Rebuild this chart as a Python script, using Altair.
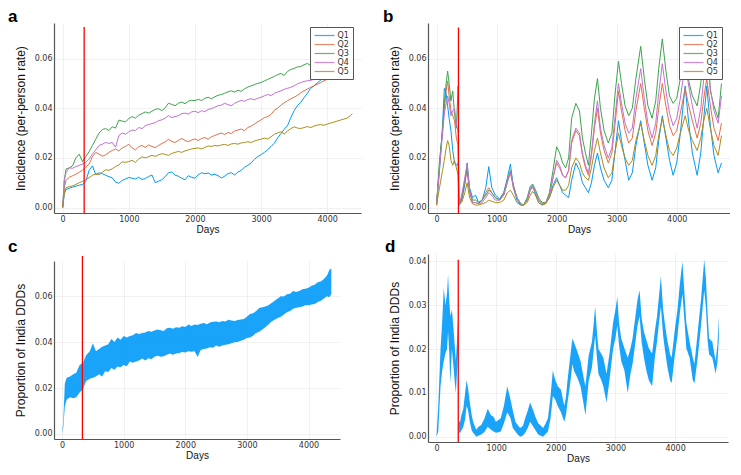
import altair as alt
import pandas as pd

SERIES = ["Q1", "Q2", "Q3", "Q4", "Q5"]
COLORS = ["#009af9", "#e26f46", "#3da44d", "#c271d2", "#ac8e18"]
BAND_COLOR = "#009af9"
TF = "Liberation Sans"
LF = "DejaVu Sans"

# ---------------- panel a ----------------
days_a = [0, 25] + list(range(50, 4351, 50)) + [4380]
q1_a = [0.0, 0.0055, 0.0072, 0.0078, 0.0082, 0.0086, 0.0090, 0.0093, 0.0105, 0.0150,
        0.0168, 0.0133, 0.0140, 0.0136, 0.0130, 0.0124, 0.0120, 0.0102, 0.0098, 0.0109,
        0.0115, 0.0121, 0.0118, 0.0115, 0.0122, 0.0113, 0.0117, 0.0125, 0.0131, 0.0100,
        0.0106, 0.0112, 0.0124, 0.0140, 0.0143, 0.0130, 0.0126, 0.0118, 0.0112, 0.0128,
        0.0122, 0.0118, 0.0132, 0.0140, 0.0136, 0.0139, 0.0131, 0.0134, 0.0128, 0.0119,
        0.0126, 0.0137, 0.0140, 0.0131, 0.0143, 0.0150, 0.0162, 0.0170, 0.0180, 0.0194,
        0.0205, 0.0213, 0.0222, 0.0233, 0.0245, 0.0259, 0.0280, 0.0298, 0.0315, 0.0330,
        0.0362, 0.0390, 0.0410, 0.0424, 0.0442, 0.0460, 0.0480, 0.0490, 0.0502, 0.0512,
        0.0527, 0.0540, 0.0560, 0.0578, 0.0600, 0.0625, 0.0652, 0.0675, 0.0705, 0.0721]
q2_a = [0.0, 0.0080, 0.0110, 0.0122, 0.0128, 0.0134, 0.0142, 0.0150, 0.0162, 0.0175,
        0.0205, 0.0222, 0.0215, 0.0207, 0.0212, 0.0222, 0.0230, 0.0236, 0.0228, 0.0240,
        0.0246, 0.0255, 0.0240, 0.0232, 0.0245, 0.0250, 0.0242, 0.0252, 0.0246, 0.0241,
        0.0250, 0.0258, 0.0264, 0.0275, 0.0266, 0.0262, 0.0270, 0.0278, 0.0270, 0.0265,
        0.0272, 0.0276, 0.0270, 0.0278, 0.0282, 0.0275, 0.0285, 0.0290, 0.0296, 0.0300,
        0.0294, 0.0302, 0.0298, 0.0308, 0.0312, 0.0316, 0.0310, 0.0322, 0.0328, 0.0336,
        0.0345, 0.0353, 0.0362, 0.0366, 0.0375, 0.0392, 0.0400, 0.0412, 0.0422, 0.0430,
        0.0438, 0.0444, 0.0452, 0.0462, 0.0470, 0.0477, 0.0484, 0.0490, 0.0496, 0.0503,
        0.0510, 0.0516, 0.0522, 0.0530, 0.0545, 0.0560, 0.0575, 0.0590, 0.0598, 0.0604]
q3_a = [0.0, 0.0110, 0.0155, 0.0160, 0.0168, 0.0200, 0.0215, 0.0185, 0.0205, 0.0225,
        0.0250, 0.0275, 0.0300, 0.0314, 0.0318, 0.0310, 0.0325, 0.0320, 0.0352, 0.0348,
        0.0345, 0.0358, 0.0366, 0.0360, 0.0372, 0.0378, 0.0385, 0.0380, 0.0388, 0.0395,
        0.0398, 0.0390, 0.0402, 0.0420, 0.0415, 0.0410, 0.0420, 0.0425, 0.0418, 0.0428,
        0.0432, 0.0430, 0.0436, 0.0431, 0.0440, 0.0444, 0.0438, 0.0446, 0.0452, 0.0455,
        0.0460, 0.0466, 0.0470, 0.0465, 0.0472, 0.0468, 0.0478, 0.0485, 0.0490, 0.0495,
        0.0500, 0.0503, 0.0510, 0.0516, 0.0522, 0.0528, 0.0535, 0.0540, 0.0532, 0.0548,
        0.0556, 0.0560, 0.0566, 0.0568, 0.0575, 0.0580, 0.0572, 0.0578, 0.0585, 0.0590,
        0.0596, 0.0602, 0.0610, 0.0618, 0.0625, 0.0635, 0.0645, 0.0655, 0.0668, 0.0680]
q4_a = [0.0, 0.0110, 0.0140, 0.0160, 0.0158, 0.0165, 0.0170, 0.0175, 0.0182, 0.0195,
        0.0215, 0.0232, 0.0250, 0.0255, 0.0262, 0.0258, 0.0262, 0.0243, 0.0290, 0.0300,
        0.0295, 0.0305, 0.0312, 0.0310, 0.0322, 0.0318, 0.0330, 0.0334, 0.0338, 0.0342,
        0.0350, 0.0353, 0.0360, 0.0370, 0.0362, 0.0366, 0.0370, 0.0378, 0.0380, 0.0376,
        0.0385, 0.0388, 0.0382, 0.0390, 0.0386, 0.0395, 0.0398, 0.0404, 0.0410, 0.0412,
        0.0420, 0.0414, 0.0410, 0.0420, 0.0426, 0.0431, 0.0428, 0.0435, 0.0438, 0.0434,
        0.0440, 0.0444, 0.0450, 0.0455, 0.0451, 0.0460, 0.0465, 0.0470, 0.0476, 0.0480,
        0.0484, 0.0490, 0.0498, 0.0503, 0.0508, 0.0510, 0.0512, 0.0516, 0.0522, 0.0528,
        0.0526, 0.0532, 0.0538, 0.0544, 0.0550, 0.0556, 0.0560, 0.0566, 0.0572, 0.0578]
q5_a = [0.0, 0.0060, 0.0080, 0.0084, 0.0087, 0.0093, 0.0100, 0.0105, 0.0112, 0.0120,
        0.0130, 0.0135, 0.0132, 0.0142, 0.0152, 0.0150, 0.0156, 0.0165, 0.0172, 0.0184,
        0.0182, 0.0185, 0.0190, 0.0182, 0.0195, 0.0204, 0.0200, 0.0205, 0.0210, 0.0206,
        0.0212, 0.0217, 0.0214, 0.0210, 0.0218, 0.0222, 0.0226, 0.0222, 0.0228, 0.0232,
        0.0236, 0.0238, 0.0240, 0.0236, 0.0242, 0.0248, 0.0246, 0.0250, 0.0248, 0.0252,
        0.0254, 0.0250, 0.0256, 0.0258, 0.0255, 0.0260, 0.0262, 0.0265, 0.0262, 0.0268,
        0.0272, 0.0275, 0.0280, 0.0276, 0.0285, 0.0295, 0.0300, 0.0305, 0.0296, 0.0308,
        0.0318, 0.0325, 0.0320, 0.0318, 0.0322, 0.0326, 0.0322, 0.0328, 0.0332, 0.0334,
        0.0331, 0.0336, 0.0340, 0.0344, 0.0348, 0.0352, 0.0356, 0.0360, 0.0370, 0.0378]

# ---------------- panel b ----------------
days_b = [0, 50, 100, 130, 160, 185, 210, 240, 270, 300,
          330, 360, 372, 420, 470, 510, 550, 600, 650, 700,
          760, 820, 870, 920, 980, 1050, 1120, 1180, 1230, 1280,
          1340, 1400, 1450, 1510, 1560, 1600, 1650, 1700, 1760, 1820,
          1880, 1940, 2000, 2050, 2100, 2150, 2200, 2250, 2320, 2380,
          2430, 2480, 2530, 2580, 2630, 2680, 2730, 2790, 2860, 2920,
          2970, 3030, 3080, 3140, 3200, 3260, 3320, 3400, 3460, 3520,
          3590, 3650, 3700, 3760, 3820, 3880, 3940, 4000, 4060, 4140,
          4200, 4260, 4340, 4400, 4450, 4500, 4560, 4620, 4690, 4745]
q1_b = [0.001, 0.015, 0.033, 0.048, 0.046, 0.041, 0.036, 0.031, 0.023, 0.018,
        0.017, 0.018, 0.001, 0.003, 0.009, 0.018, 0.008, 0.004, 0.005, 0.002,
        0.003, 0.008, 0.0165, 0.008, 0.005, 0.0035, 0.006, 0.012, 0.0175, 0.008,
        0.003, 0.001, 0.001, 0.003, 0.007, 0.009, 0.005, 0.002, 0.001, 0.002,
        0.004, 0.009, 0.012, 0.009, 0.006, 0.005, 0.004, 0.011, 0.018, 0.015,
        0.010, 0.008, 0.006, 0.010, 0.017, 0.022, 0.016, 0.011, 0.008, 0.011,
        0.022, 0.035, 0.027, 0.019, 0.011, 0.014, 0.025, 0.035, 0.026, 0.017,
        0.011, 0.016, 0.027, 0.037, 0.028, 0.019, 0.013, 0.018, 0.030, 0.049,
        0.034, 0.022, 0.013, 0.022, 0.036, 0.049, 0.033, 0.021, 0.014, 0.018]
q2_b = [0.001, 0.017, 0.031, 0.040, 0.047, 0.051, 0.045, 0.039, 0.037, 0.035,
        0.028, 0.025, 0.001, 0.004, 0.010, 0.015, 0.006, 0.002, 0.002, 0.0015,
        0.003, 0.006, 0.008, 0.006, 0.004, 0.003, 0.005, 0.010, 0.014, 0.008,
        0.004, 0.0015, 0.001, 0.003, 0.007, 0.008, 0.006, 0.003, 0.0015, 0.002,
        0.005, 0.012, 0.018, 0.016, 0.013, 0.012, 0.015, 0.026, 0.031, 0.029,
        0.021, 0.016, 0.013, 0.021, 0.032, 0.040, 0.030, 0.023, 0.018, 0.022,
        0.033, 0.047, 0.039, 0.031, 0.026, 0.028, 0.039, 0.050, 0.040, 0.031,
        0.025, 0.030, 0.040, 0.050, 0.041, 0.033, 0.029, 0.031, 0.038, 0.048,
        0.041, 0.035, 0.028, 0.034, 0.044, 0.052, 0.041, 0.032, 0.027, 0.034]
q3_b = [0.001, 0.019, 0.031, 0.042, 0.050, 0.055, 0.050, 0.043, 0.047, 0.038,
        0.032, 0.049, 0.001, 0.004, 0.011, 0.016, 0.007, 0.003, 0.003, 0.002,
        0.003, 0.005, 0.007, 0.006, 0.004, 0.003, 0.006, 0.011, 0.015, 0.009,
        0.004, 0.0015, 0.001, 0.004, 0.0085, 0.0095, 0.007, 0.004, 0.002, 0.002,
        0.006, 0.015, 0.0245, 0.022, 0.018, 0.016, 0.020, 0.036, 0.042, 0.039,
        0.028, 0.022, 0.017, 0.030, 0.044, 0.052, 0.040, 0.031, 0.026, 0.030,
        0.045, 0.059, 0.050, 0.041, 0.037, 0.040, 0.052, 0.065, 0.052, 0.041,
        0.036, 0.043, 0.056, 0.068, 0.055, 0.045, 0.042, 0.044, 0.052, 0.066,
        0.051, 0.045, 0.041, 0.050, 0.062, 0.072, 0.047, 0.041, 0.036, 0.050]
q4_b = [0.001, 0.016, 0.030, 0.038, 0.042, 0.045, 0.042, 0.037, 0.039, 0.040,
        0.034, 0.030, 0.001, 0.005, 0.012, 0.0175, 0.007, 0.002, 0.002, 0.0015,
        0.002, 0.004, 0.006, 0.005, 0.003, 0.003, 0.005, 0.011, 0.0145, 0.009,
        0.004, 0.0015, 0.001, 0.003, 0.008, 0.009, 0.006, 0.003, 0.0015, 0.002,
        0.005, 0.012, 0.019, 0.017, 0.013, 0.012, 0.015, 0.027, 0.032, 0.030,
        0.022, 0.017, 0.014, 0.022, 0.034, 0.043, 0.032, 0.025, 0.020, 0.024,
        0.036, 0.050, 0.042, 0.034, 0.030, 0.032, 0.044, 0.056, 0.044, 0.034,
        0.028, 0.034, 0.046, 0.058, 0.047, 0.038, 0.033, 0.036, 0.044, 0.058,
        0.049, 0.041, 0.032, 0.040, 0.052, 0.062, 0.048, 0.039, 0.034, 0.045]
q5_b = [0.001, 0.008, 0.015, 0.019, 0.024, 0.027, 0.025, 0.019, 0.017, 0.019,
        0.016, 0.013, 0.001, 0.002, 0.006, 0.010, 0.004, 0.0015, 0.001, 0.001,
        0.0015, 0.002, 0.003, 0.0025, 0.002, 0.002, 0.003, 0.006, 0.007, 0.005,
        0.002, 0.001, 0.001, 0.002, 0.005, 0.0065, 0.005, 0.002, 0.001, 0.0015,
        0.004, 0.008, 0.011, 0.009, 0.007, 0.007, 0.009, 0.016, 0.020, 0.018,
        0.014, 0.012, 0.011, 0.016, 0.023, 0.028, 0.022, 0.016, 0.012, 0.014,
        0.022, 0.030, 0.025, 0.020, 0.017, 0.019, 0.027, 0.034, 0.027, 0.021,
        0.017, 0.021, 0.029, 0.036, 0.029, 0.023, 0.021, 0.024, 0.030, 0.037,
        0.031, 0.027, 0.023, 0.028, 0.035, 0.040, 0.032, 0.025, 0.021, 0.029]

# ---------------- panel c ----------------
days_c = [0, 20, 45, 75, 130, 180, 230, 285, 340, 390,
          450, 500, 550, 600, 650, 700, 750, 800, 850, 900,
          950, 1000, 1050, 1100, 1150, 1200, 1250, 1300, 1350, 1400,
          1450, 1500, 1550, 1600, 1650, 1700, 1750, 1800, 1850, 1900,
          1950, 2000, 2050, 2100, 2150, 2200, 2250, 2300, 2350, 2400,
          2450, 2500, 2550, 2600, 2650, 2700, 2750, 2800, 2850, 2900,
          2950, 3000, 3050, 3100, 3150, 3200, 3250, 3300, 3350, 3400,
          3450, 3500, 3550, 3600, 3650, 3700, 3750, 3800, 3850, 3900,
          3950, 4000, 4050, 4100, 4150, 4200, 4250, 4300, 4340, 4370]
hi_c = [0.000, 0.006, 0.022, 0.0245, 0.025, 0.026, 0.0266, 0.030, 0.031, 0.0343,
        0.036, 0.0395, 0.036, 0.037, 0.038, 0.0385, 0.039, 0.0413, 0.040, 0.042,
        0.041, 0.0427, 0.042, 0.0427, 0.043, 0.044, 0.0435, 0.044, 0.0442, 0.0448,
        0.0445, 0.045, 0.0455, 0.0452, 0.0448, 0.046, 0.0462, 0.0458, 0.0465, 0.0462,
        0.0469, 0.0466, 0.0476, 0.047, 0.0476, 0.0474, 0.048, 0.0483, 0.0478, 0.0485,
        0.0488, 0.049, 0.0486, 0.0492, 0.049, 0.0497, 0.0494, 0.0492, 0.0496, 0.0498,
        0.050, 0.051, 0.0522, 0.0525, 0.0535, 0.0548, 0.0552, 0.0555, 0.056, 0.057,
        0.058, 0.059, 0.060, 0.0598, 0.0608, 0.061, 0.0622, 0.0618, 0.0622, 0.063,
        0.0632, 0.0636, 0.0645, 0.065, 0.066, 0.0664, 0.0675, 0.069, 0.0715, 0.072]
lo_c = [0.000, 0.003, 0.012, 0.015, 0.016, 0.0155, 0.016, 0.018, 0.0196, 0.023,
        0.024, 0.0245, 0.025, 0.026, 0.025, 0.0273, 0.027, 0.0287, 0.028, 0.0294,
        0.029, 0.030, 0.0295, 0.0315, 0.031, 0.0315, 0.032, 0.0329, 0.032, 0.033,
        0.0325, 0.0336, 0.034, 0.0336, 0.0338, 0.0345, 0.035, 0.0345, 0.035, 0.0352,
        0.0357, 0.0355, 0.036, 0.0358, 0.036, 0.0335, 0.0365, 0.037, 0.0372, 0.0378,
        0.0375, 0.0385, 0.038, 0.0385, 0.0388, 0.039, 0.0395, 0.0399, 0.040, 0.0406,
        0.041, 0.0418, 0.042, 0.0428, 0.044, 0.0445, 0.0455, 0.0465, 0.0476, 0.049,
        0.0497, 0.0505, 0.051, 0.052, 0.053, 0.0535, 0.0545, 0.055, 0.0552, 0.0555,
        0.056, 0.056, 0.0564, 0.0566, 0.0575, 0.058, 0.059, 0.060, 0.0595, 0.061]

# ---------------- panel d ----------------
days_d = [0, 30, 68, 95, 123, 150, 177, 194, 215, 232,
          259, 286, 310, 325, 345, 360, 372, 396, 420, 450,
          480, 505, 530, 559, 590, 614, 640, 668, 700, 750,
          800, 859, 914, 960, 996, 1040, 1077, 1130, 1187, 1241,
          1280, 1323, 1370, 1405, 1450, 1487, 1530, 1569, 1623, 1660,
          1705, 1750, 1787, 1830, 1869, 1910, 1951, 1990, 2033, 2087,
          2142, 2170, 2197, 2240, 2279, 2306, 2360, 2415, 2460, 2497,
          2551, 2606, 2630, 2660, 2690, 2715, 2760, 2797, 2851, 2906,
          2960, 3000, 3031, 3060, 3097, 3151, 3206, 3250, 3287, 3330,
          3369, 3405, 3440, 3478, 3520, 3560, 3615, 3660, 3697, 3730,
          3762, 3800, 3833, 3870, 3915, 3942, 3997, 4040, 4079, 4123,
          4160, 4188, 4243, 4297, 4325, 4379, 4434, 4488, 4516, 4545,
          4570, 4624, 4679, 4710, 4733]
hi_d = [0.000, 0.007, 0.020, 0.026, 0.034, 0.030, 0.0327, 0.037, 0.031, 0.0275,
        0.029, 0.0246, 0.020, 0.0173, 0.022, 0.0268, 0.0035, 0.0034, 0.005, 0.0064,
        0.010, 0.0129, 0.011, 0.0078, 0.005, 0.0034, 0.0025, 0.0016, 0.0022, 0.0027,
        0.004, 0.0064, 0.0049, 0.0045, 0.0034, 0.0038, 0.0042, 0.007, 0.0115, 0.0085,
        0.006, 0.0034, 0.0025, 0.002, 0.0025, 0.0042, 0.006, 0.0078, 0.006, 0.0045,
        0.0031, 0.0025, 0.002, 0.003, 0.0042, 0.009, 0.0151, 0.013, 0.0115, 0.0107,
        0.0071, 0.009, 0.0129, 0.018, 0.0224, 0.0215, 0.0195, 0.0173, 0.014, 0.0115,
        0.0185, 0.0217, 0.025, 0.0297, 0.024, 0.020, 0.019, 0.018, 0.0144, 0.0195,
        0.026, 0.029, 0.0319, 0.026, 0.0224, 0.0202, 0.018, 0.020, 0.0224, 0.027,
        0.0312, 0.0334, 0.027, 0.0239, 0.022, 0.0202, 0.019, 0.024, 0.0275, 0.032,
        0.0366, 0.029, 0.0253, 0.022, 0.0188, 0.018, 0.0246, 0.029, 0.0348, 0.040,
        0.032, 0.026, 0.0217, 0.018, 0.0166, 0.0239, 0.0312, 0.0404, 0.0363, 0.028,
        0.0224, 0.0217, 0.0173, 0.021, 0.0275]
lo_d = [0.000, 0.0012, 0.0115, 0.015, 0.0173, 0.019, 0.020, 0.024, 0.019, 0.0122,
        0.020, 0.0158, 0.012, 0.010, 0.015, 0.0195, 0.001, 0.0009, 0.0015, 0.0023,
        0.004, 0.0071, 0.006, 0.0034, 0.0015, 0.0009, 0.0005, 0.0, 0.0002, 0.0005,
        0.001, 0.0023, 0.0016, 0.0012, 0.0009, 0.001, 0.0012, 0.003, 0.0056, 0.0042,
        0.002, 0.0012, 0.0004, 0.0, 0.0003, 0.0009, 0.002, 0.0034, 0.0023, 0.0015,
        0.0005, 0.0002, 0.0, 0.0006, 0.0012, 0.004, 0.0093, 0.0085, 0.007, 0.0056,
        0.0034, 0.005, 0.0078, 0.012, 0.0166, 0.015, 0.0135, 0.0115, 0.008, 0.0049,
        0.0127, 0.0158, 0.019, 0.0231, 0.018, 0.0144, 0.013, 0.0115, 0.0078, 0.0136,
        0.020, 0.0225, 0.0253, 0.021, 0.0173, 0.0151, 0.010, 0.0142, 0.0166, 0.021,
        0.0253, 0.0275, 0.0215, 0.018, 0.015, 0.0129, 0.0115, 0.018, 0.0217, 0.026,
        0.0297, 0.023, 0.0195, 0.016, 0.0129, 0.0122, 0.0188, 0.023, 0.0282, 0.0326,
        0.026, 0.0202, 0.018, 0.0129, 0.0122, 0.018, 0.0253, 0.0334, 0.0297, 0.022,
        0.0188, 0.018, 0.0144, 0.017, 0.0224]

# intervention marker (day) and its vertical extent per panel
red_day = {"a": 325, "b": 365, "c": 330, "d": 365}
red_top = {"a": 0.0727, "b": 0.0726, "c": 0.0775, "d": 0.0404}

x_ticks = [0, 1000, 2000, 3000, 4000]
y_ticks_main = [0.0, 0.02, 0.04, 0.06]
y_ticks_d = [0.0, 0.01, 0.02, 0.03, 0.04]


def long_df(days, series):
    rows = []
    for name, vals in zip(SERIES, series):
        for d, v in zip(days, vals):
            rows.append({"day": d, "value": v, "series": name})
    return pd.DataFrame(rows)


def encs(xdom, ydom, yticks, ytitle):
    xe = alt.X("day:Q", scale=alt.Scale(domain=xdom, nice=False, zero=False),
               axis=alt.Axis(values=x_ticks, format="d", title="Days"))
    ye = alt.Y("value:Q", scale=alt.Scale(domain=ydom, nice=False, zero=False),
               axis=alt.Axis(values=yticks, format=".2f", title=ytitle))
    return xe, ye


def letter_layer(letter, lx, ly):
    return alt.Chart(pd.DataFrame({"t": [letter]})).mark_text(
        align="left", baseline="middle", fontSize=17, fontWeight="bold",
        font=TF, color="black").encode(x=alt.value(lx), y=alt.value(ly), text="t:N")


def red_layer(key, ymin, xe, ye):
    df = pd.DataFrame({"day": [red_day[key]], "value": [ymin], "value2": [red_top[key]]})
    return alt.Chart(df).mark_rule(color="#ff0000", strokeWidth=1.3).encode(
        x=xe, y=ye, y2="value2:Q")


def make_legend(w):
    # long horizontal stroke symbol with a small nominal size, so rows stay compact
    return alt.Legend(orient="none", legendX=w - 51, legendY=4, title=None,
                      symbolType="M-1,0H4", symbolSize=64, symbolStrokeWidth=1.2,
                      symbolOpacity=0.8, labelFontSize=8, labelFont=LF,
                      labelColor="#333", strokeColor="#555", fillColor="white",
                      padding=3.5, rowPadding=0, labelOffset=14)


def lines_panel(key, days, series, xdom, ydom, w, h, lx, ly):
    xe, ye = encs(xdom, ydom, y_ticks_main, "Incidence (per-person rate)")
    lines = alt.Chart(long_df(days, series)).mark_line(strokeWidth=1).encode(
        x=xe, y=ye,
        color=alt.Color("series:N", scale=alt.Scale(domain=SERIES, range=COLORS),
                        legend=make_legend(w)))
    return alt.layer(lines, red_layer(key, ydom[0], xe, ye),
                     letter_layer(key, lx, ly)).properties(width=w, height=h)


def band_panel(key, days, hi, lo, xdom, ydom, yticks, w, h, lx, ly):
    xe, ye = encs(xdom, ydom, yticks, "Proportion of India DDDs")
    df = pd.DataFrame({"day": days, "value": hi, "value2": lo})
    band = alt.Chart(df).mark_area(color=BAND_COLOR, opacity=0.9).encode(
        x=xe, y=ye, y2="value2:Q")
    return alt.layer(band, red_layer(key, ydom[0], xe, ye),
                     letter_layer(key, lx, ly)).properties(width=w, height=h)


pa = lines_panel("a", days_a, [q1_a, q2_a, q3_a, q4_a, q5_a],
                 [-131, 4511], [-0.0022, 0.0743], 307, 190, -46, -6)
pb = lines_panel("b", days_b, [q1_b, q2_b, q3_b, q4_b, q5_b],
                 [-142, 4887], [-0.0022, 0.0744], 302, 190, -45, -6)
pc = band_panel("c", days_c, hi_c, lo_c, [-131, 4511], [-0.0022, 0.0753],
                y_ticks_main, 286, 178, -46, -14)
pd_ = band_panel("d", days_d, hi_d, lo_d, [-142, 4887], [-0.0012, 0.0417],
                 y_ticks_d, 300, 188, -43, -7)

col1 = alt.vconcat(pa, pc, spacing=4).resolve_scale(color="independent").resolve_legend(color="independent")
col2 = alt.vconcat(pb, pd_, spacing=4).resolve_scale(color="independent").resolve_legend(color="independent")

chart = alt.hconcat(col1, col2, spacing=22).resolve_scale(
    color="independent").resolve_legend(color="independent").properties(
    padding=0
).configure_view(stroke=None).configure_axis(
    labelFont=LF, labelFontSize=8, labelColor="#333", labelPadding=2,
    labelFlush=False,
    titleFont=TF, titleColor="#111", titleFontWeight="normal",
    gridColor="#e8e8e8", gridWidth=0.6,
    domainColor="#555", domainWidth=1.2, ticks=False
).configure_axisX(titleFontSize=10, titlePadding=1).configure_axisY(
    titleFontSize=12, titlePadding=7)

chart.save("out.html", embed_options={"renderer": "svg", "actions": False})
